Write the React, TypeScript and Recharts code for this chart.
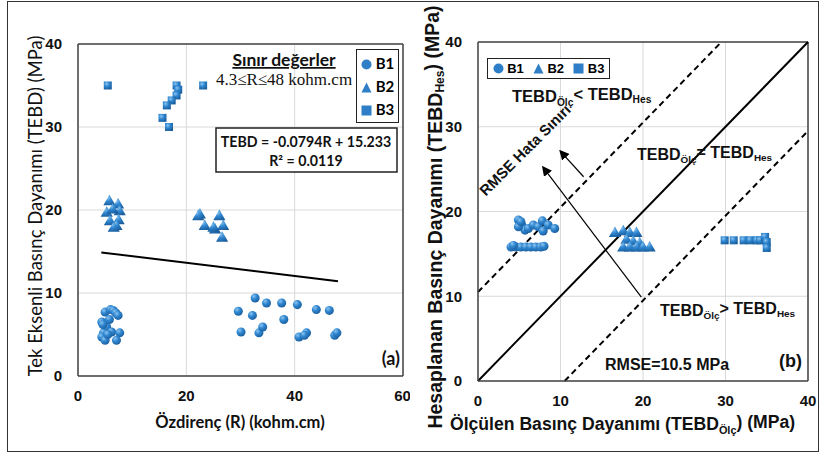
import React from 'react'
import { ScatterChart, Scatter, XAxis, YAxis, ZAxis, CartesianGrid, ReferenceLine } from 'recharts'

// panel (a): özdirenç vs TEBD
const aB1 = [
  { r: 5.0, t: 7.7 }, { r: 6.0, t: 8.0 }, { r: 6.5, t: 7.9 }, { r: 7.0, t: 7.6 }, { r: 7.4, t: 7.3 },
  { r: 4.4, t: 6.5 }, { r: 5.3, t: 5.9 }, { r: 6.2, t: 5.3 }, { r: 4.7, t: 5.2 }, { r: 4.4, t: 4.7 },
  { r: 5.0, t: 4.3 }, { r: 7.7, t: 5.2 }, { r: 7.1, t: 4.3 }, { r: 5.5, t: 5.0 }, { r: 4.6, t: 6.2 },
  { r: 5.8, t: 6.8 },
  { r: 29.6, t: 7.8 }, { r: 32.7, t: 9.4 }, { r: 34.8, t: 8.8 }, { r: 37.6, t: 8.8 }, { r: 40.5, t: 8.6 },
  { r: 44.0, t: 8.0 }, { r: 46.4, t: 7.9 }, { r: 32.2, t: 7.3 }, { r: 38.0, t: 6.8 }, { r: 30.1, t: 5.3 },
  { r: 33.4, t: 5.2 }, { r: 34.1, t: 5.9 }, { r: 40.8, t: 4.7 }, { r: 42.2, t: 5.2 }, { r: 41.8, t: 4.9 },
  { r: 47.4, t: 4.9 }, { r: 47.8, t: 5.2 },
]
const aB2 = [
  { r: 5.8, t: 21.0 }, { r: 7.4, t: 20.6 }, { r: 5.3, t: 19.6 }, { r: 7.7, t: 19.8 }, { r: 6.4, t: 20.0 },
  { r: 5.9, t: 18.6 }, { r: 7.5, t: 18.7 }, { r: 7.1, t: 18.0 }, { r: 6.6, t: 17.8 },
  { r: 22.5, t: 19.4 }, { r: 22.2, t: 19.2 }, { r: 26.1, t: 19.2 }, { r: 23.4, t: 18.0 }, { r: 25.3, t: 17.6 },
  { r: 26.8, t: 18.0 }, { r: 26.6, t: 16.6 }, { r: 25.0, t: 17.8 },
]
const aB3 = [
  { r: 5.5, t: 35.0 }, { r: 23.1, t: 35.0 }, { r: 18.2, t: 35.0 }, { r: 18.5, t: 34.5 }, { r: 18.2, t: 33.8 },
  { r: 17.3, t: 33.2 }, { r: 16.4, t: 32.6 }, { r: 15.6, t: 31.1 }, { r: 16.8, t: 30.0 },
]
const aTrend = [{ r: 4.3, t: 14.89 }, { r: 48, t: 11.42 }]
const aTicksX = [0, 20, 40, 60]
const aTicksY = [0, 10, 20, 30, 40]

// panel (b): ölçülen vs hesaplanan
const bB1 = [
  { m: 4.9, h: 19.0 }, { m: 5.3, h: 18.4 }, { m: 5.7, h: 17.8 }, { m: 6.1, h: 18.0 }, { m: 6.7, h: 18.4 },
  { m: 7.3, h: 18.2 }, { m: 7.8, h: 18.9 }, { m: 7.9, h: 17.7 }, { m: 8.5, h: 18.4 }, { m: 9.3, h: 18.0 },
  { m: 4.9, h: 18.2 }, { m: 5.2, h: 18.8 },
  { m: 4.0, h: 15.8 }, { m: 4.6, h: 15.8 }, { m: 5.2, h: 15.8 }, { m: 5.8, h: 15.8 }, { m: 6.4, h: 15.8 },
  { m: 7.0, h: 15.8 }, { m: 7.6, h: 15.8 }, { m: 8.0, h: 15.9 }, { m: 4.3, h: 16.0 },
]
const bB2 = [
  { m: 16.6, h: 17.4 }, { m: 17.6, h: 17.6 }, { m: 18.4, h: 17.4 }, { m: 19.2, h: 17.4 }, { m: 18.0, h: 16.6 },
  { m: 18.8, h: 16.4 }, { m: 19.6, h: 16.2 }, { m: 17.6, h: 15.7 }, { m: 18.4, h: 15.7 }, { m: 19.2, h: 15.7 },
  { m: 20.0, h: 15.7 }, { m: 20.8, h: 15.7 },
]
const bB3 = [
  { m: 29.9, h: 16.6 }, { m: 31.0, h: 16.6 }, { m: 32.2, h: 16.6 }, { m: 33.0, h: 16.6 }, { m: 33.8, h: 16.6 },
  { m: 34.2, h: 16.6 }, { m: 34.8, h: 17.0 }, { m: 35.0, h: 16.4 }, { m: 35.0, h: 15.7 },
]
const bEqual = [{ m: 0, h: 0 }, { m: 40, h: 40 }]
const bUpper = [{ m: 0, h: 10.5 }, { m: 29.5, h: 40 }]
const bLower = [{ m: 10.5, h: 0 }, { m: 40, h: 29.5 }]
const bArrowLong = [{ m: 19.8, h: 9.9 }, { m: 7.9, h: 25.2 }]
const bArrowShort = [{ m: 12.8, h: 24.1 }, { m: 10.0, h: 27.1 }]
const bTicks = [0, 10, 20, 30, 40]

const FONT_A = 'Lato, "Open Sans", sans-serif'
const FONT_B = '"Liberation Sans", Arial, sans-serif'
const FILL = 'url(#blueBall)'
const tick = { fontSize: 15, fontWeight: 700, fill: '#111', fontFamily: FONT_B }

const Defs = ({ id }: { id: string }) => (
  <defs>
    <radialGradient id="blueBall" cx="35%" cy="30%" r="75%">
      <stop offset="0%" stopColor="#8cc4f0" />
      <stop offset="45%" stopColor="#2f86d0" />
      <stop offset="100%" stopColor="#1a5d9c" />
    </radialGradient>
    <marker id={id} markerWidth="10" markerHeight="10" refX="8" refY="5" orient="auto" markerUnits="userSpaceOnUse">
      <path d="M0,0 L10,5 L0,10 z" fill="#000" />
    </marker>
  </defs>
)

const Icon = ({ kind }: { kind: string }) => (
  <svg width={11} height={11} style={{ verticalAlign: '-1px' }}>
    {kind === 'circle' && <circle cx={5.5} cy={5.5} r={5} fill="#2f7fc8" />}
    {kind === 'triangle' && <path d="M5.5,0.5 L10.5,10.5 L0.5,10.5 z" fill="#2f7fc8" />}
    {kind === 'square' && <rect x={0.5} y={0.5} width={10} height={10} fill="#2f7fc8" />}
  </svg>
)

const LEG = [{ name: 'B1', kind: 'circle' }, { name: 'B2', kind: 'triangle' }, { name: 'B3', kind: 'square' }]

const LegendA = () => (
  <div style={{ position: 'absolute', left: 356, top: 49, boxSizing: 'border-box', width: 43, height: 74, border: '1.5px solid #222', background: '#fff', padding: '2px 0 0 4px', fontFamily: FONT_A, fontWeight: 700, fontSize: 15 }}>
    {LEG.map((l) => (
      <div key={l.name} style={{ height: 23, lineHeight: '23px', whiteSpace: 'nowrap' }}>
        <Icon kind={l.kind} /> {l.name}
      </div>
    ))}
  </div>
)

const LegendB = () => (
  <div style={{ position: 'absolute', left: 487, top: 58, boxSizing: 'border-box', width: 123, height: 21, border: '1.5px solid #222', background: '#fff', display: 'flex', alignItems: 'center', justifyContent: 'space-around', fontFamily: FONT_B, fontWeight: 700, fontSize: 13 }}>
    {LEG.map((l) => (
      <span key={l.name} style={{ whiteSpace: 'nowrap' }}>
        <Icon kind={l.kind} /> {l.name}
      </span>
    ))}
  </div>
)

const Sub = ({ main, sub, rest }: { main: string; sub: string; rest?: string }) => (
  <>
    {main}
    <tspan fontSize="0.62em" dy="0.35em">{sub}</tspan>
    <tspan dy="-0.35em">{rest ?? ''}</tspan>
  </>
)

function PanelA() {
  return (
    <div style={{ position: 'absolute', left: 0, top: 0 }}>
      <ScatterChart width={410} height={454} margin={{ top: 44, right: 7, bottom: 48, left: 48 }}>
        <Defs id="arrA" />
        <CartesianGrid stroke="#d9d9d9" />
        <XAxis type="number" dataKey="r" domain={[0, 60]} ticks={aTicksX} tick={tick} tickLine={false}
          axisLine={{ stroke: '#444', strokeWidth: 1.5 }} height={30} tickMargin={8} />
        <YAxis type="number" dataKey="t" domain={[0, 40]} ticks={aTicksY} tick={tick} tickLine={false}
          axisLine={{ stroke: '#444', strokeWidth: 1.5 }} width={30} tickMargin={10} />
        <ZAxis range={[110, 110]} />
        <ReferenceLine y={40} stroke="#444" strokeWidth={1.5} />
        <ReferenceLine x={60} stroke="#444" strokeWidth={1.5} />
        <ReferenceLine segment={[{ x: aTrend[0].r, y: aTrend[0].t }, { x: aTrend[1].r, y: aTrend[1].t }]} stroke="#000" strokeWidth={2} />
        <Scatter name="B1" data={aB1} shape="circle" fill={FILL} isAnimationActive={false} />
        <Scatter name="B2" data={aB2} shape="triangle" fill={FILL} isAnimationActive={false} />
        <Scatter name="B3" data={aB3} shape="square" fill={FILL} isAnimationActive={false} />
      </ScatterChart>
    </div>
  )
}

function PanelB() {
  const seg = (p: { m: number; h: number }[]) => [{ x: p[0].m, y: p[0].h }, { x: p[1].m, y: p[1].h }]
  return (
    <div style={{ position: 'absolute', left: 410, top: 0 }}>
      <ScatterChart width={411} height={454} margin={{ top: 42, right: 13, bottom: 43, left: 38 }}>
        <Defs id="arrB" />
        <CartesianGrid stroke="#d9d9d9" />
        <XAxis type="number" dataKey="m" domain={[0, 40]} ticks={bTicks} tick={tick} tickLine={false}
          axisLine={{ stroke: '#444', strokeWidth: 1.5 }} height={30} tickMargin={8} />
        <YAxis type="number" dataKey="h" domain={[0, 40]} ticks={bTicks} tick={tick} tickLine={false}
          axisLine={{ stroke: '#444', strokeWidth: 1.5 }} width={30} tickMargin={10} />
        <ZAxis range={[110, 110]} />
        <ReferenceLine y={40} stroke="#444" strokeWidth={1.5} />
        <ReferenceLine x={40} stroke="#444" strokeWidth={1.5} />
        <ReferenceLine segment={seg(bEqual)} stroke="#000" strokeWidth={2} />
        <ReferenceLine segment={seg(bUpper)} stroke="#000" strokeWidth={2} strokeDasharray="6 4" />
        <ReferenceLine segment={seg(bLower)} stroke="#000" strokeWidth={2} strokeDasharray="6 4" />
        <ReferenceLine segment={seg(bArrowLong)} stroke="#000" strokeWidth={1.2} markerEnd="url(#arrB)" />
        <ReferenceLine segment={seg(bArrowShort)} stroke="#000" strokeWidth={1.2} markerEnd="url(#arrB)" />
        <Scatter name="B1" data={bB1} shape="circle" fill={FILL} isAnimationActive={false} />
        <Scatter name="B2" data={bB2} shape="triangle" fill={FILL} isAnimationActive={false} />
        <Scatter name="B3" data={bB3} shape="square" fill={FILL} isAnimationActive={false} />
      </ScatterChart>
    </div>
  )
}

export default function App() {
  return (
    <div style={{ position: 'absolute', left: 0, top: 0, width: 821, height: 454, background: '#fff', overflow: 'hidden' }}>
      <PanelA />
      <PanelB />
      <svg width={821} height={454} style={{ position: 'absolute', left: 0, top: 0, pointerEvents: 'none' }}>
        {/* panel (a) texts */}
        <text x={37} y={206} transform="rotate(-90 37 206)" textAnchor="middle" dominantBaseline="middle"
          fontFamily={FONT_A} fontSize={18.5} fill="#111">Tek Eksenli Basınç Dayanımı (TEBD) (MPa)</text>
        <text x={240} y={428} textAnchor="middle" fontFamily={FONT_A} fontWeight={700} fontSize={16.5} fill="#111">Özdirenç (R) (kohm.cm)</text>
        <text x={284} y={66} textAnchor="middle" fontFamily={FONT_A} fontWeight={700} fontSize={17.5} textDecoration="underline" fill="#111">Sınır değerler</text>
        <text x={284} y={85} textAnchor="middle" fontFamily='"Liberation Serif", serif' fontSize={17} fill="#111">4.3≤R≤48 kohm.cm</text>
        <rect x={216} y={128} width={181} height={44} fill="#fff" stroke="#222" strokeWidth={1.5} />
        <text x={306} y={147} textAnchor="middle" fontFamily={FONT_A} fontWeight={700} fontSize={14.2} fill="#111">TEBD = -0.0794R + 15.233</text>
        <text x={306} y={166} textAnchor="middle" fontFamily={FONT_A} fontWeight={700} fontSize={14.2} fill="#111">R² = 0.0119</text>
        <text x={400} y={365} textAnchor="end" fontFamily={FONT_A} fontWeight={700} fontSize={18} fill="#111">(a)</text>

        {/* panel (b) texts */}
        <text x={437} y={217} transform="rotate(-90 437 217)" textAnchor="middle" dominantBaseline="middle"
          fontFamily={FONT_B} fontWeight={700} fontSize={19.5} fill="#111">Hesaplanan Basınç Dayanımı (<Sub main="TEBD" sub="Hes" rest=") (MPa)" /></text>
        <text x={450} y={430} fontFamily={FONT_B} fontWeight={700} fontSize={17.6} fill="#111">Ölçülen Basınç Dayanımı (<Sub main="TEBD" sub="Ölç" rest=") (MPa)" /></text>
        <text x={512} y={102} fontFamily={FONT_B} fontWeight={700} fontSize={16.5} fill="#111"><Sub main="TEBD" sub="Ölç" rest="< " /><Sub main="TEBD" sub="Hes" /></text>
        <text x={637} y={160} fontFamily={FONT_B} fontWeight={700} fontSize={16} fill="#111"><Sub main="TEBD" sub="Ölç" rest="= " /><Sub main="TEBD" sub="Hes" /></text>
        <text x={660} y={316} fontFamily={FONT_B} fontWeight={700} fontSize={16} fill="#111"><Sub main="TEBD" sub="Ölç" rest="> " /><Sub main="TEBD" sub="Hes" /></text>
        <text x={526} y={151} transform="rotate(-45 526 151)" textAnchor="middle" dominantBaseline="middle"
          fontFamily={FONT_B} fontWeight={700} fontSize={15} fill="#111">RMSE Hata Sınırı</text>
        <text x={605} y={370} fontFamily={FONT_B} fontWeight={700} fontSize={16} fill="#111">RMSE=10.5 MPa</text>
        <text x={802} y={367} textAnchor="end" fontFamily={FONT_B} fontWeight={700} fontSize={18} fill="#111">(b)</text>
      </svg>
      <LegendA />
      <LegendB />
      <div style={{ position: 'absolute', left: 7, top: 1, width: 810, height: 449, border: '1.5px solid #333', pointerEvents: 'none' }} />
    </div>
  )
}
